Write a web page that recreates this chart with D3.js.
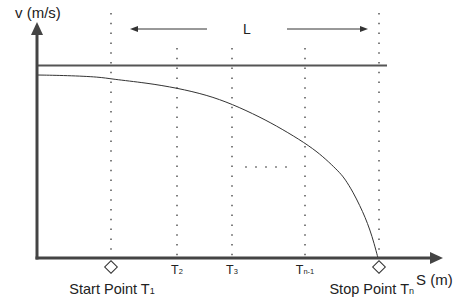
<!DOCTYPE html>
<html>
<head>
<meta charset="utf-8">
<script src="https://cdn.jsdelivr.net/npm/d3@7"></script>
<style>
  html, body { margin: 0; padding: 0; background: #fff; }
  svg { display: block; font-family: "Liberation Sans", Arial, sans-serif; }
</style>
</head>
<body>
<svg id="chart" width="463" height="299"></svg>
<script>
// ---- data (S in metres-like units from origin, v in speed units) ----
const markerS = [74, 140, 195, 268, 342];
const markerNames = ["T1", "T2", "T3", "Tn-1", "Tn"];
const markerTop = [245, 210, 210, 210, 245];
const tickMain = ["T", "T", "T", "T"];
const tickSub = ["2", "3", "n-1"];
const curveS = [0, 30, 63, 74, 110, 140, 170, 195, 223, 245, 268, 283, 295, 303, 308, 316, 323, 328, 333, 337, 341];
const curveV = [183, 182.5, 181, 179, 175, 170, 163, 154, 141, 129, 115, 104, 93, 85, 79, 66, 52, 41, 28, 15, 0];
const vLimitS = [0, 350];
const vLimitV = [192.5, 192.5];
const spanS = [93, 170, 250, 331];
const spanV = 229;
const gapDotsS = [209, 219, 229, 239, 249];
const gapDotsV = 91;

const svg = d3.select("#chart");
const x = d3.scaleLinear().domain([0, 406]).range([37, 443]);
const y = d3.scaleLinear().domain([0, 236]).range([258, 22]);
const axisColor = "#444";

// vertical dotted marker lines
svg.append("g").selectAll("line").data(markerS).join("line")
  .attr("x1", d => x(d)).attr("x2", d => x(d))
  .attr("y1", (d, i) => y(markerTop[i])).attr("y2", y(0))
  .attr("stroke", "#555").attr("stroke-width", 1.5)
  .attr("stroke-dasharray", "1.5 8.3");

// horizontal dotted gap
svg.append("g").selectAll("rect").data(gapDotsS).join("rect")
  .attr("x", d => x(d) - 0.75).attr("y", y(gapDotsV) - 0.75)
  .attr("width", 1.5).attr("height", 1.5).attr("fill", "#555");

// speed limit line
const line = d3.line().x(d => x(d[0])).y(d => y(d[1]));
svg.append("path").datum(vLimitS.map((s, i) => [s, vLimitV[i]]))
  .attr("d", line).attr("fill", "none").attr("stroke", "#555").attr("stroke-width", 2);

// deceleration curve
const curveLine = d3.line().x(d => x(d[0])).y(d => y(d[1])).curve(d3.curveBasis);
svg.append("path").datum(curveS.map((s, i) => [s, curveV[i]]))
  .attr("d", curveLine).attr("fill", "none").attr("stroke", "#333").attr("stroke-width", 1);

// axes
const xAxis = svg.append("g").attr("transform", `translate(0,${y(0)})`)
  .call(d3.axisBottom(x).tickValues([]).tickSizeOuter(0));
xAxis.select(".domain").attr("stroke", axisColor).attr("stroke-width", 3)
  .attr("d", `M${x(0) - 1.5},0H${x(406) - 12}`);
const yAxis = svg.append("g").attr("transform", `translate(${x(0)},0)`)
  .call(d3.axisLeft(y).tickValues([]).tickSizeOuter(0));
yAxis.select(".domain").attr("stroke", axisColor).attr("stroke-width", 3)
  .attr("d", `M0,${y(0) + 1.5}V${y(236) + 12}`);
// arrow heads
svg.append("path")
  .attr("d", `M${x(406)},${y(0)}L${x(406) - 13},${y(0) - 6}L${x(406) - 13},${y(0) + 6}Z`)
  .attr("fill", axisColor);
svg.append("path")
  .attr("d", `M${x(0)},${y(236)}L${x(0) - 6},${y(236) + 13}L${x(0) + 6},${y(236) + 13}Z`)
  .attr("fill", axisColor);

// L span arrows
function spanArrow(from, to) {
  const x1 = x(from), x2 = x(to), yy = y(spanV);
  const dir = Math.sign(x2 - x1);
  svg.append("line").attr("x1", x1).attr("x2", x2 - dir * 6).attr("y1", yy).attr("y2", yy)
    .attr("stroke", "#333").attr("stroke-width", 1);
  svg.append("path")
    .attr("d", `M${x2},${yy}L${x2 - dir * 8},${yy - 3}L${x2 - dir * 8},${yy + 3}Z`)
    .attr("fill", "#333");
}
spanArrow(spanS[1], spanS[0]);
spanArrow(spanS[2], spanS[3]);
svg.append("text").attr("x", x((spanS[1] + spanS[2]) / 2)).attr("y", y(spanV) + 4.5)
  .attr("text-anchor", "middle").attr("font-size", 14).attr("fill", "#222").text("L");

// diamonds at start and stop points
svg.append("g").selectAll("path").data([markerS[0], markerS[4]]).join("path")
  .attr("transform", d => `translate(${x(d)},${y(0) + 9}) rotate(45)`)
  .attr("d", d3.symbol().type(d3.symbolSquare).size(80))
  .attr("fill", "#fff").attr("stroke", "#333").attr("stroke-width", 1);

// tick labels T2, T3, Tn-1
const mid = svg.append("g").attr("font-size", 12.5).attr("fill", "#222");
[1, 2, 3].forEach((k, i) => {
  const t = mid.append("text").attr("x", x(markerS[k])).attr("y", y(0) + 16)
    .attr("text-anchor", "middle");
  t.append("tspan").text(tickMain[i]);
  t.append("tspan").attr("font-size", 7.5).text(tickSub[i]);
});

// start/stop labels
function pointLabel(xpos, anchor, main, sub) {
  const t = svg.append("text").attr("x", xpos).attr("y", 294)
    .attr("text-anchor", anchor).attr("font-size", 14.5).attr("fill", "#222");
  t.append("tspan").text(main);
  t.append("tspan").attr("font-size", 9).text(sub);
}
pointLabel(x(markerS[0]) + 1, "middle", "Start Point T", "1");
pointLabel(414, "end", "Stop Point T", "n");

// axis titles
svg.append("text").attr("x", 416).attr("y", 285).attr("font-size", 15).attr("fill", "#222").text("S (m)");
svg.append("text").attr("x", 15).attr("y", 18).attr("font-size", 15).attr("fill", "#222").text("v (m/s)");
</script>
</body>
</html>
